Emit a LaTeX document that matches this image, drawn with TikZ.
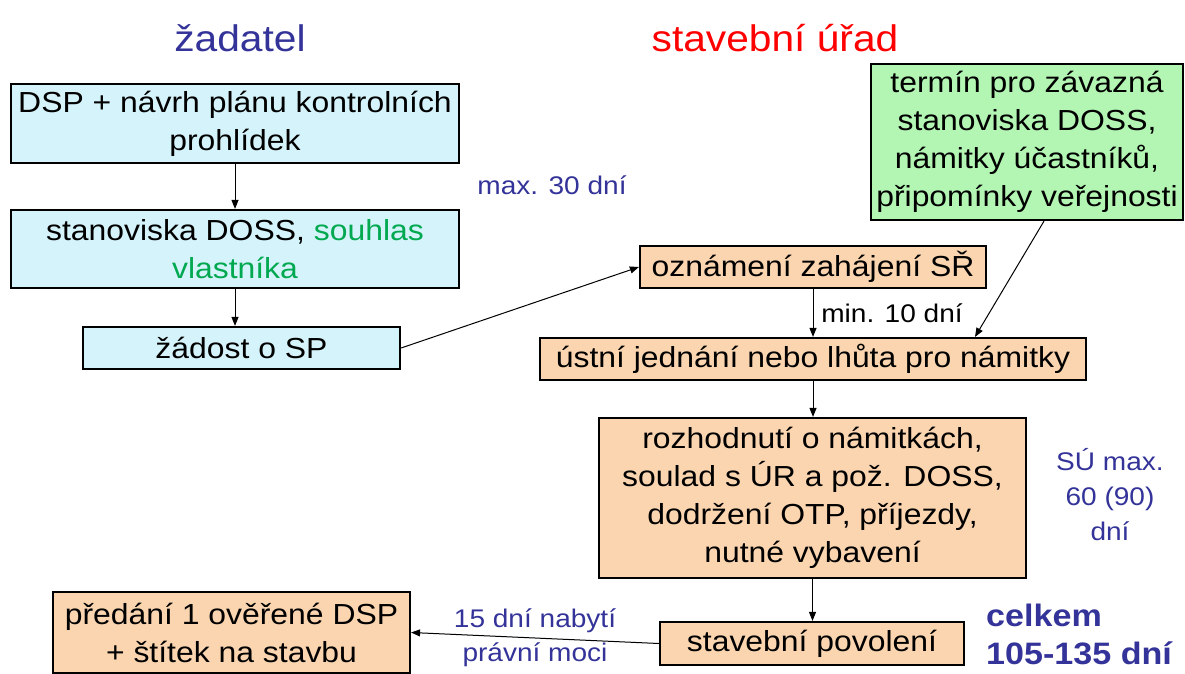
\documentclass[tikz,border=0pt]{standalone}
\usepackage{fontspec}
\setmainfont{Liberation Sans}[FakeStretch=1.1]
\usetikzlibrary{arrows.meta}
\definecolor{boxcyan}{HTML}{D5F3FA}
\definecolor{boxgreen}{HTML}{B3F5B3}
\definecolor{boxorange}{HTML}{FAD5B0}
\definecolor{labelblue}{HTML}{333399}
\definecolor{textgreen}{HTML}{00A850}
\definecolor{titlered}{HTML}{FF0000}
\begin{document}
\begin{tikzpicture}[x=1pt,y=-1pt,
  box/.style={draw=black, line width=2.2pt, inner sep=0pt, align=center,
              font=\fontsize{29}{38}\selectfont},
  cyanbox/.style={box, fill=boxcyan},
  greenbox/.style={box, fill=boxgreen},
  orangebox/.style={box, fill=boxorange},
  conn/.style={line width=1pt, -{Triangle[length=9pt,width=7pt]}},
  lbl/.style={font=\fontsize{25.5}{34}\selectfont, text=labelblue, inner sep=0pt, align=center},
  title/.style={font=\fontsize{37}{44}\selectfont, inner sep=0pt, anchor=base},
  total/.style={font=\bfseries\fontsize{31}{41}\selectfont, text=labelblue, inner sep=0pt, text depth=0pt, anchor=base west}]
\useasboundingbox (0,0) rectangle (1185,674);

% titles
\node[title, text=labelblue] (tzad) at (240,52) {žadatel};
\node[title, text=titlered] (tsu) at (775,52) {stavební úřad};

% applicant column
\node[cyanbox, minimum width=448pt, minimum height=79pt] (dsp) at (235,123.5)
  {DSP + návrh plánu kontrolních\\prohlídek};
\node[cyanbox, minimum width=448pt, minimum height=78pt] (stan) at (235,249)
  {stanoviska DOSS, \textcolor{textgreen}{souhlas}\\\textcolor{textgreen}{vlastníka}};
\node[cyanbox, minimum width=317pt, minimum height=42pt] (zad) at (241.5,348)
  {žádost o SP};

\node[lbl] (max30) at (552,185) {max. 30 dní};

% building office column
\node[greenbox, minimum width=312pt, minimum height=156pt] (term) at (1027,142)
  {termín pro závazná\\stanoviska DOSS,\\námitky účastníků,\\připomínky veřejnosti};
\node[orangebox, minimum width=346pt, minimum height=42pt] (ozn) at (813,267)
  {oznámení zahájení SŘ};
\node[orangebox, minimum width=546pt, minimum height=42pt] (ust) at (813,359)
  {ústní jednání nebo lhůta pro námitky};
\node[orangebox, minimum width=427pt, minimum height=160pt] (roz) at (812.5,498)
  {rozhodnutí o námitkách,\\soulad s ÚR a pož. DOSS,\\dodržení OTP, příjezdy,\\nutné vybavení};
\node[orangebox, minimum width=304pt, minimum height=43pt] (stp) at (812,643.5)
  {stavební povolení};
\node[orangebox, minimum width=357pt, minimum height=81pt] (pred) at (231.5,632.5)
  {předání 1 ověřené DSP\\+ štítek na stavbu};

\node[lbl, text=black] (min10) at (892,313) {min. 10 dní};
\node[lbl, font=\fontsize{25.5}{35}\selectfont] (su) at (1110,495) {SÚ max.\\60 (90)\\dní};
\node[total] (celk1) at (986,626) {celkem};
\node[total] (celk2) at (986,664) {105-135 dní};

% connectors
\draw[conn] (dsp.south) -- (stan.north);
\draw[conn] (stan.south) -- (stan.south |- zad.north);
\draw[conn] (zad.east) -- (ozn.west);
\draw[conn] (ozn.south) -- (ozn.south |- ust.north);
\draw[conn] ([xshift=17pt]term.south) -- ([xshift=162pt]ust.north);
\draw[conn] (ust.south) -- (ust.south |- roz.north);
\draw[conn] (roz.south) -- (roz.south |- stp.north);
\draw[conn] (stp.west) -- node[lbl, midway] (lab15) {15 dní nabytí\\právní moci} (pred.east);
\end{tikzpicture}
\end{document}
